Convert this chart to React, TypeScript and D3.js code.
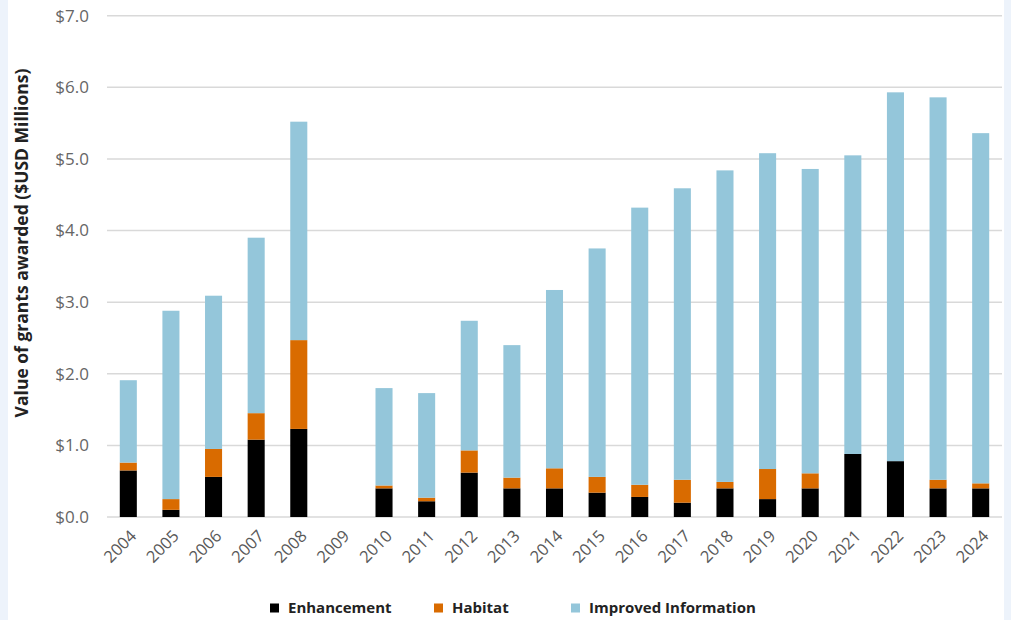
import React from "react";
import * as d3 from "d3";

// Grant values by year, $USD millions
const years = [
  "2004", "2005", "2006", "2007", "2008", "2009", "2010", "2011", "2012", "2013",
  "2014", "2015", "2016", "2017", "2018", "2019", "2020", "2021", "2022", "2023", "2024",
];
const enhancement = [0.65, 0.10, 0.56, 1.08, 1.23, 0, 0.40, 0.22, 0.62, 0.40, 0.40, 0.34, 0.28, 0.20, 0.40, 0.25, 0.40, 0.88, 0.78, 0.40, 0.40];
const habitat = [0.11, 0.15, 0.39, 0.37, 1.24, 0, 0.04, 0.05, 0.31, 0.15, 0.28, 0.22, 0.17, 0.32, 0.09, 0.42, 0.21, 0, 0, 0.12, 0.07];
const improvedInformation = [1.15, 2.63, 2.14, 2.45, 3.05, 0, 1.36, 1.46, 1.81, 1.85, 2.49, 3.19, 3.87, 4.07, 4.35, 4.41, 4.25, 4.17, 5.15, 5.34, 4.89];

const seriesNames = ["Enhancement", "Habitat", "Improved Information"];
const seriesColors = ["#000000", "#d96b00", "#94c6da"];
const yTicks = [0, 1, 2, 3, 4, 5, 6, 7];

const W = 1011;
const H = 620;
const margin = { left: 107, right: 9, top: 15.7, bottom: 103 };
const FONT = "'Open Sans', 'Noto Sans', sans-serif";

export default function App() {
  const x = d3
    .scaleBand<string>()
    .domain(years)
    .range([margin.left, W - margin.right])
    .paddingInner(0.6)
    .paddingOuter(0.3);
  const y = d3.scaleLinear().domain([0, 7]).range([H - margin.bottom, margin.top]);

  const table = years.map((yr, i) => ({
    year: yr,
    Enhancement: enhancement[i],
    Habitat: habitat[i],
    "Improved Information": improvedInformation[i],
  }));
  const stacked = d3.stack<any>().keys(seriesNames)(table);

  const legendItems = [
    { name: seriesNames[0], x: 270 },
    { name: seriesNames[1], x: 434 },
    { name: seriesNames[2], x: 571 },
  ];

  return (
    <div style={{ position: "fixed", left: 0, top: 0 }}>
      <svg width={W} height={H} style={{ display: "block" }}>
        <rect x={0} y={0} width={W} height={H} fill="#edf3fb" />
        <rect x={8} y={0} width={996} height={H} fill="#ffffff" />

        {/* gridlines */}
        {yTicks.map((t) => (
          <line
            key={t}
            x1={margin.left}
            x2={W - margin.right}
            y1={y(t)}
            y2={y(t)}
            stroke="#d9d9d9"
            strokeWidth={1.5}
          />
        ))}

        {/* y tick labels */}
        {yTicks.map((t) => (
          <text
            key={t}
            x={89}
            y={y(t)}
            dy="0.35em"
            textAnchor="end"
            fontFamily={FONT}
            fontSize={17}
            fill="#666666"
          >
            {"$" + t.toFixed(1)}
          </text>
        ))}

        {/* stacked bars */}
        {stacked.map((layer, si) => (
          <g key={layer.key} fill={seriesColors[si]}>
            {layer.map((d, i) =>
              d[1] - d[0] > 0 ? (
                <rect
                  key={i}
                  x={x(years[i])}
                  width={x.bandwidth()}
                  y={y(d[1])}
                  height={y(d[0]) - y(d[1])}
                />
              ) : null
            )}
          </g>
        ))}

        {/* x tick labels */}
        {years.map((yr) => {
          const cx = (x(yr) as number) + x.bandwidth() / 2 + 5;
          const cy = 533;
          return (
            <text
              key={yr}
              transform={`translate(${cx},${cy}) rotate(-45)`}
              textAnchor="end"
              dy="0.35em"
              fontFamily={FONT}
              fontSize={16.5}
              fill="#595959"
            >
              {yr}
            </text>
          );
        })}

        {/* y axis title */}
        <text
          transform={`translate(22,${243}) rotate(-90)`}
          textAnchor="middle"
          dy="0.35em"
          fontFamily={FONT}
          fontSize={17.5}
          fontWeight={700}
          fill="#222222"
        >
          Value of grants awarded ($USD Millions)
        </text>

        {/* legend */}
        {legendItems.map((item, i) => (
          <g key={item.name} transform={`translate(${item.x},608)`}>
            <rect x={0} y={-4.5} width={9} height={9} fill={seriesColors[i]} />
            <text
              x={18}
              dy="0.35em"
              fontFamily={FONT}
              fontSize={15}
              fontWeight={700}
              fill="#222222"
            >
              {item.name}
            </text>
          </g>
        ))}
      </svg>
    </div>
  );
}
